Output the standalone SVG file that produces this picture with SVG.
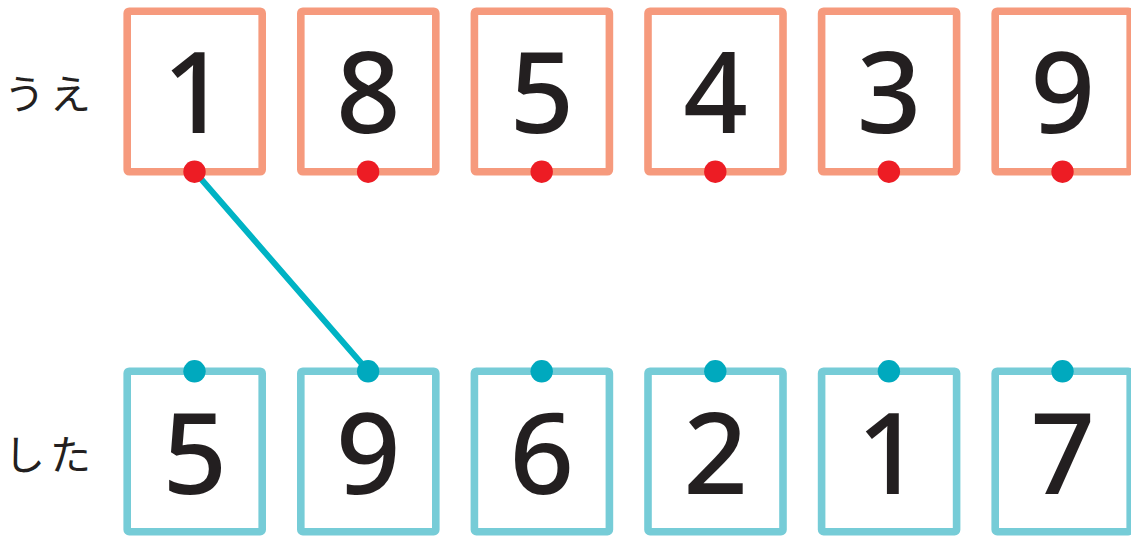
<svg xmlns="http://www.w3.org/2000/svg" width="1131" height="537" viewBox="0 0 1131 537">
<style>
.top rect{fill:#fff;stroke:#f69a7d;stroke-width:7.6}
.bot rect{fill:#fff;stroke:#76ccd7;stroke-width:7.6}
.top circle{fill:#ed1c24}
.bot circle{fill:#00a9be}
.d{font-family:"Noto Sans","Open Sans",sans-serif;font-weight:500;font-size:113px;fill:#231f20;text-anchor:middle}
.lbl{font-family:"Noto Sans CJK JP",sans-serif;font-size:41px;fill:#231f20;letter-spacing:5px}
.conn{stroke:#00b3c4;stroke-width:6;stroke-linecap:round;fill:none}
</style>
<rect width="1131" height="537" fill="#fff"/>
<text class="lbl" x="4" y="109">うえ</text>
<text class="lbl" x="4" y="470">した</text>
<g class="top">
<g id="t1"><rect x="127.2" y="11.2" width="135" height="160.6" rx="2"/><text class="d" x="194.7" y="133">1</text></g>
<g id="t2"><rect x="300.8" y="11.2" width="135" height="160.6" rx="2"/><text class="d" x="368.3" y="133">8</text></g>
<g id="t3"><rect x="474.4" y="11.2" width="135" height="160.6" rx="2"/><text class="d" x="541.9" y="133">5</text></g>
<g id="t4"><rect x="648" y="11.2" width="135" height="160.6" rx="2"/><text class="d" x="715.5" y="133">4</text></g>
<g id="t5"><rect x="821.6" y="11.2" width="135" height="160.6" rx="2"/><text class="d" x="889.1" y="133">3</text></g>
<g id="t6"><rect x="995.2" y="11.2" width="135" height="160.6" rx="2"/><text class="d" x="1062.7" y="133">9</text></g>
</g>
<g class="bot">
<g id="b1"><rect x="127.2" y="371.2" width="135" height="160.5" rx="2"/><text class="d" x="194.7" y="494">5</text></g>
<g id="b2"><rect x="300.8" y="371.2" width="135" height="160.5" rx="2"/><text class="d" x="368.3" y="494">9</text></g>
<g id="b3"><rect x="474.4" y="371.2" width="135" height="160.5" rx="2"/><text class="d" x="541.9" y="494">6</text></g>
<g id="b4"><rect x="648" y="371.2" width="135" height="160.5" rx="2"/><text class="d" x="715.5" y="494">2</text></g>
<g id="b5"><rect x="821.6" y="371.2" width="135" height="160.5" rx="2"/><text class="d" x="889.1" y="494">1</text></g>
<g id="b6"><rect x="995.2" y="371.2" width="135" height="160.5" rx="2"/><text class="d" x="1062.7" y="494">7</text></g>
</g>
<g id="connectors">
<line class="conn" x1="195" y1="172" x2="368.3" y2="371.3"/>
</g>
<g class="top">
<circle cx="194.5" cy="171.7" r="11.2"/><circle cx="368.1" cy="171.7" r="11.2"/><circle cx="541.7" cy="171.7" r="11.2"/><circle cx="715.3" cy="171.7" r="11.2"/><circle cx="888.9" cy="171.7" r="11.2"/><circle cx="1062.5" cy="171.7" r="11.2"/>
</g>
<g class="bot">
<circle cx="194.5" cy="371.3" r="11.2"/><circle cx="368.1" cy="371.3" r="11.2"/><circle cx="541.7" cy="371.3" r="11.2"/><circle cx="715.3" cy="371.3" r="11.2"/><circle cx="888.9" cy="371.3" r="11.2"/><circle cx="1062.5" cy="371.3" r="11.2"/>
</g>
</svg>
